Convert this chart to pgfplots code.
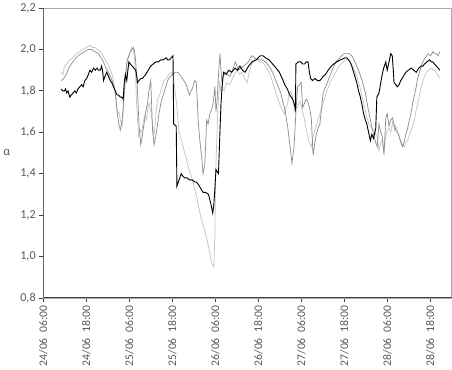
\documentclass[border=0pt]{standalone}
\usepackage{pgfplots}
\pgfplotsset{compat=1.18}
\usepackage{fontspec}
\setmainfont{Carlito}
\definecolor{axisdark}{RGB}{64,64,64}
\definecolor{ticktext}{RGB}{89,89,89}
\definecolor{frame}{RGB}{170,170,170}
\definecolor{seriesA}{RGB}{0,0,0}
\definecolor{seriesB}{RGB}{140,140,140}
\definecolor{seriesC}{RGB}{195,195,195}
\newcommand{\dt}[2]{#1\hspace{0.5em}#2}

\begin{document}
\begin{tikzpicture}
\begin{axis}[
  scale only axis,
  width=403pt,height=286pt,
  xmin=0,xmax=114,
  ymin=0.8,ymax=2.2,
  xtick={0,12,...,108},
  xticklabels={\dt{24/06}{06:00},\dt{24/06}{18:00},\dt{25/06}{06:00},\dt{25/06}{18:00},\dt{26/06}{06:00},\dt{26/06}{18:00},\dt{27/06}{06:00},\dt{27/06}{18:00},\dt{28/06}{06:00},\dt{28/06}{18:00}},
  x tick label style={rotate=90,anchor=east,font=\fontsize{11.5}{14}\selectfont},
  ytick={0.8,1.0,...,2.2},
  yticklabel style={/pgf/number format/.cd,use comma,fixed,fixed zerofill,precision=1},
  /pgf/number format/assume math mode=true,
  tick label style={font=\fontsize{12}{14}\selectfont,text=ticktext},
  tick align=outside,
  xtick pos=bottom,ytick pos=left,
  major tick length=4pt,
  tick style={axisdark,line width=0.8pt},
  axis line style={frame,line width=0.6pt},
  ylabel={α},
  every axis y label/.style={at={(rel axis cs:0,0.5)},anchor=center,xshift=-36pt,font=\fontsize{12}{14}\selectfont,text=ticktext},
  clip=true,
]
% light grey series
\addplot[seriesC,line width=0.7pt] coordinates {
(5.0,1.89) (5.5,1.88) (5.9,1.92) (6.6,1.93) (7.4,1.95) (8.3,1.96) (9.3,1.98) (10.2,1.99) (11.1,2.00) (12.0,2.01) (13.0,2.02) (13.7,2.01) (14.4,2.01) (15.1,2.00) (15.9,1.99) (16.6,1.97) (17.3,1.95) (18.0,1.93) (18.7,1.90) (19.2,1.88) (19.6,1.85) (20.0,1.80) (20.4,1.74) (20.7,1.69) (21.1,1.70) (21.5,1.66) (22.0,1.63) (22.4,1.72) (22.8,1.84) (23.2,1.92) (23.9,1.97) (24.3,1.99) (24.6,2.01) (25.1,2.00) (25.5,1.95) (25.8,1.86) (26.0,1.75) (26.3,1.66) (26.6,1.58) (27.0,1.61) (27.5,1.60) (27.9,1.65) (28.3,1.68) (28.8,1.66) (29.2,1.72) (29.6,1.74) (30.0,1.70) (30.5,1.64) (30.9,1.58) (31.4,1.68) (31.9,1.76) (32.5,1.78) (33.1,1.82) (33.7,1.85) (34.4,1.86) (35.0,1.88) (35.7,1.89) (36.2,1.88) (36.8,1.80) (37.4,1.70) (37.9,1.60) (38.6,1.56) (39.3,1.51) (40.0,1.47) (40.8,1.41) (41.5,1.38) (42.2,1.33) (42.9,1.28) (43.6,1.22) (44.3,1.17) (45.0,1.13) (45.6,1.09) (46.3,1.03) (47.0,0.97) (47.6,0.95) (47.9,1.10) (48.1,1.40) (48.4,1.55) (48.7,1.70) (49.2,1.85) (49.5,1.80) (49.8,1.82) (50.5,1.80) (51.2,1.84) (51.9,1.83) (52.6,1.85) (53.3,1.88) (54.1,1.90) (54.8,1.88) (55.5,1.89) (56.2,1.86) (56.9,1.84) (57.6,1.90) (58.3,1.94) (59.0,1.95) (59.7,1.95) (60.4,1.94) (61.1,1.94) (62.0,1.92) (63.0,1.89) (63.7,1.86) (64.4,1.82) (65.1,1.78) (65.9,1.74) (66.6,1.71) (67.3,1.69) (67.8,1.72) (68.2,1.74) (68.6,1.79) (69.1,1.80) (69.6,1.77) (70.2,1.70) (70.6,1.72) (71.0,1.72) (71.5,1.75) (71.9,1.74) (72.3,1.70) (72.7,1.68) (73.2,1.63) (73.6,1.60) (74.2,1.55) (74.8,1.53) (75.3,1.58) (75.8,1.61) (76.2,1.63) (76.7,1.66) (77.4,1.70) (78.1,1.74) (79.0,1.79) (80.0,1.84) (81.0,1.87) (81.9,1.90) (83.1,1.93) (84.3,1.95) (85.0,1.95) (85.7,1.94) (86.6,1.91) (87.5,1.87) (88.5,1.81) (89.4,1.74) (90.2,1.68) (90.9,1.64) (91.6,1.62) (92.3,1.61) (92.8,1.59) (93.2,1.58) (93.7,1.51) (94.2,1.55) (94.6,1.56) (95.1,1.52) (95.6,1.58) (96.0,1.61) (96.5,1.62) (97.0,1.60) (97.5,1.65) (98.0,1.61) (98.4,1.63) (99.1,1.59) (99.8,1.56) (100.3,1.54) (100.8,1.53) (101.2,1.55) (101.7,1.56) (102.2,1.59) (102.7,1.61) (103.1,1.63) (103.6,1.66) (104.0,1.70) (104.5,1.74) (105.0,1.78) (105.5,1.82) (106.2,1.86) (106.9,1.89) (107.6,1.90) (108.3,1.91) (108.8,1.90) (109.2,1.90) (110.0,1.88) (110.7,1.86)
};
% grey series
\addplot[seriesB,line width=0.7pt] coordinates {
(5.0,1.85) (5.7,1.86) (6.4,1.88) (7.1,1.91) (7.8,1.93) (8.7,1.95) (9.7,1.97) (10.6,1.98) (11.6,1.99) (12.5,2.00) (13.5,2.00) (14.4,1.99) (15.4,1.98) (16.1,1.96) (16.8,1.94) (17.5,1.91) (18.2,1.89) (18.7,1.87) (19.2,1.85) (19.7,1.82) (20.1,1.79) (20.5,1.72) (20.8,1.67) (21.2,1.63) (21.5,1.61) (22.0,1.66) (22.3,1.72) (22.6,1.80) (23.0,1.87) (23.4,1.95) (23.9,1.97) (24.3,1.99) (24.8,2.00) (25.2,2.01) (25.5,1.99) (25.8,1.94) (26.1,1.86) (26.3,1.80) (26.7,1.64) (27.2,1.54) (27.6,1.58) (28.1,1.64) (28.6,1.70) (29.1,1.74) (29.4,1.79) (29.7,1.82) (30.0,1.85) (30.3,1.70) (30.5,1.61) (30.9,1.54) (31.4,1.58) (31.9,1.64) (32.3,1.69) (32.8,1.74) (33.3,1.77) (33.8,1.80) (34.2,1.82) (34.7,1.85) (35.4,1.87) (36.2,1.88) (36.9,1.89) (37.6,1.89) (38.0,1.88) (38.5,1.87) (39.2,1.85) (39.9,1.83) (40.4,1.80) (40.8,1.78) (41.3,1.80) (41.8,1.82) (42.3,1.85) (42.7,1.84) (43.0,1.75) (43.2,1.66) (43.7,1.56) (44.2,1.48) (44.6,1.40) (45.1,1.45) (45.6,1.66) (46.0,1.64) (46.5,1.69) (47.0,1.71) (47.4,1.74) (47.9,1.82) (48.2,1.70) (48.5,1.75) (48.8,1.85) (49.3,1.98) (49.6,1.90) (49.8,1.85) (50.3,1.87) (50.7,1.89) (51.4,1.88) (52.1,1.87) (52.8,1.90) (53.6,1.94) (54.0,1.92) (54.5,1.90) (55.2,1.91) (55.9,1.92) (56.6,1.93) (57.3,1.94) (57.8,1.96) (58.3,1.97) (59.0,1.96) (59.7,1.95) (60.4,1.95) (61.1,1.95) (62.0,1.94) (63.0,1.92) (64.0,1.89) (64.9,1.85) (65.6,1.82) (66.3,1.79) (66.8,1.75) (67.3,1.72) (67.8,1.67) (68.2,1.63) (68.6,1.57) (68.9,1.53) (69.4,1.45) (69.7,1.49) (70.0,1.53) (70.4,1.66) (70.7,1.75) (71.0,1.82) (71.5,1.83) (72.0,1.84) (72.4,1.72) (72.9,1.74) (73.4,1.76) (73.8,1.75) (74.3,1.72) (74.8,1.67) (75.3,1.49) (75.8,1.55) (76.2,1.59) (76.7,1.62) (77.2,1.64) (77.7,1.72) (78.1,1.79) (78.8,1.82) (79.5,1.85) (80.4,1.89) (81.4,1.93) (82.3,1.95) (83.3,1.97) (84.0,1.98) (84.7,1.98) (85.4,1.98) (86.1,1.97) (87.0,1.94) (88.0,1.90) (89.0,1.85) (89.9,1.79) (90.6,1.72) (91.3,1.66) (91.8,1.62) (92.3,1.58) (92.8,1.55) (93.2,1.53) (93.7,1.64) (94.2,1.60) (94.6,1.58) (95.1,1.49) (95.6,1.67) (96.0,1.69) (96.5,1.63) (97.0,1.66) (97.5,1.67) (97.9,1.64) (98.4,1.61) (98.9,1.60) (99.3,1.58) (99.8,1.55) (100.3,1.53) (100.8,1.56) (101.2,1.59) (101.7,1.62) (102.2,1.66) (102.7,1.70) (103.1,1.74) (103.6,1.78) (104.1,1.82) (104.5,1.86) (105.0,1.89) (105.5,1.92) (105.9,1.94) (106.6,1.96) (107.4,1.98) (108.1,1.97) (108.8,1.99) (109.2,1.98) (109.7,1.98) (110.2,1.97) (110.7,1.99)
};
% black series
\addplot[seriesA,line width=0.9pt] coordinates {
(5.0,1.81) (5.4,1.80) (5.9,1.80) (6.2,1.81) (6.5,1.79) (6.9,1.80) (7.4,1.77) (7.8,1.78) (8.3,1.79) (8.8,1.80) (9.2,1.79) (9.7,1.81) (10.2,1.82) (10.7,1.83) (11.1,1.82) (11.6,1.85) (12.1,1.86) (12.6,1.88) (13.0,1.90) (13.5,1.89) (14.0,1.91) (14.5,1.90) (15.0,1.91) (15.4,1.90) (15.9,1.90) (16.3,1.92) (16.6,1.89) (16.8,1.85) (17.2,1.87) (17.7,1.89) (18.2,1.87) (18.7,1.85) (19.1,1.84) (19.6,1.82) (20.1,1.80) (20.6,1.78) (21.0,1.78) (21.5,1.77) (21.9,1.77) (22.3,1.76) (22.6,1.84) (22.9,1.88) (23.3,1.85) (23.6,1.90) (23.9,1.94) (24.3,1.93) (24.8,1.92) (25.3,1.91) (25.8,1.90) (26.1,1.87) (26.3,1.84) (26.7,1.85) (27.2,1.86) (27.7,1.86) (28.1,1.87) (28.6,1.88) (29.3,1.90) (30.0,1.92) (30.7,1.93) (31.4,1.94) (32.1,1.94) (32.8,1.95) (33.5,1.95) (34.3,1.96) (34.7,1.95) (35.2,1.95) (35.7,1.96) (36.2,1.97) (36.4,1.64) (37.1,1.63) (37.3,1.34) (37.9,1.37) (38.5,1.40) (38.9,1.39) (39.4,1.38) (40.1,1.38) (40.8,1.37) (41.5,1.37) (42.3,1.36) (42.7,1.36) (43.2,1.35) (43.9,1.33) (44.6,1.31) (45.3,1.31) (46.1,1.30) (46.7,1.26) (47.3,1.21) (47.6,1.25) (47.9,1.33) (48.2,1.42) (48.9,1.40) (49.3,1.60) (49.6,1.74) (50.0,1.84) (50.3,1.89) (51.0,1.88) (51.8,1.90) (52.6,1.89) (53.5,1.91) (54.2,1.90) (54.9,1.92) (55.6,1.90) (56.3,1.89) (57.3,1.92) (58.3,1.94) (59.4,1.95) (60.6,1.97) (61.3,1.97) (62.0,1.96) (63.0,1.95) (64.0,1.93) (65.0,1.91) (65.9,1.89) (66.7,1.86) (67.4,1.83) (68.1,1.81) (68.8,1.78) (69.2,1.77) (69.6,1.76) (70.0,1.74) (70.4,1.71) (70.5,1.93) (71.2,1.94) (71.9,1.94) (72.4,1.93) (72.9,1.93) (73.4,1.94) (73.9,1.94) (74.2,1.90) (74.6,1.86) (75.2,1.85) (75.8,1.86) (76.5,1.85) (77.2,1.85) (77.7,1.86) (78.1,1.87) (78.8,1.88) (79.5,1.90) (80.0,1.91) (80.4,1.92) (81.1,1.93) (81.8,1.94) (83.0,1.95) (84.3,1.96) (84.7,1.96) (85.2,1.95) (85.6,1.94) (86.1,1.92) (86.8,1.88) (87.5,1.84) (88.0,1.80) (88.5,1.77) (89.0,1.73) (89.4,1.69) (89.9,1.66) (90.3,1.64) (90.8,1.60) (91.3,1.56) (91.7,1.59) (92.2,1.57) (92.8,1.62) (93.1,1.77) (93.7,1.79) (94.1,1.83) (94.5,1.87) (95.0,1.91) (95.6,1.94) (96.0,1.90) (96.5,1.94) (97.0,1.98) (97.4,1.97) (97.7,1.90) (97.9,1.84) (98.4,1.83) (98.8,1.82) (99.3,1.83) (99.8,1.85) (100.5,1.87) (101.2,1.89) (101.9,1.90) (102.7,1.91) (103.4,1.90) (104.1,1.89) (104.8,1.91) (105.5,1.92) (106.0,1.92) (106.4,1.93) (107.1,1.94) (107.8,1.95) (108.3,1.94) (108.7,1.94) (109.2,1.93) (109.7,1.92) (110.2,1.91) (110.7,1.90)
};
\draw[axisdark,line width=1pt] (rel axis cs:0,1) -- (rel axis cs:0,0) -- (rel axis cs:1,0);
\end{axis}
\end{tikzpicture}
\end{document}
